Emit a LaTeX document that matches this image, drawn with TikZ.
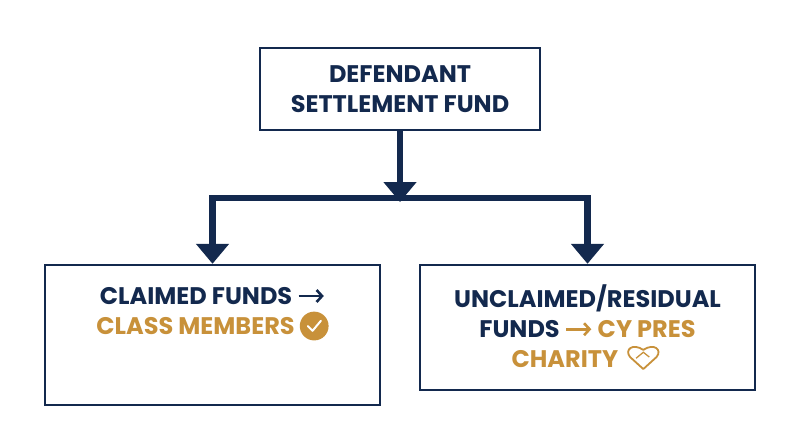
\documentclass[tikz,border=0pt]{standalone}
\usepackage{fontspec}
\setmainfont{Poppins}
\usetikzlibrary{arrows.meta}
\definecolor{navy}{HTML}{13294E}
\definecolor{gold}{HTML}{C8913A}
\newcommand{\rarr}{\tikz[baseline=0pt]{\draw[line width=2.6pt,-{Straight Barb[length=5.5pt,width=12pt,line width=2.6pt]}] (0,0.36em) -- (1.05em,0.36em);}}
\newcommand{\chk}{\tikz[baseline=0pt]{\fill[gold] (0,0.36em) circle (0.6em);\draw[white,line width=2pt,line cap=round,line join=round] (-0.27em,0.36em) -- (-0.07em,0.16em) -- (0.28em,0.58em);}}
\newcommand{\hrt}{\tikz[baseline=0pt]{\draw[gold,line width=1.8pt,line join=round] (0,-0.05em) -- (-0.55em,0.45em) .. controls (-0.8em,0.75em) and (-0.45em,1.05em) .. (0,0.75em) .. controls (0.45em,1.05em) and (0.8em,0.75em) .. (0.55em,0.45em) -- cycle; \draw[gold,line width=1.3pt] (-0.3em,0.4em) -- (0,0.65em) -- (0.25em,0.45em);}}
\begin{document}
\begin{tikzpicture}[x=1pt,y=-1pt,
  box/.style={draw=navy,line width=2.4pt,fill=white,inner sep=0pt},
  txt/.style={align=center,font=\fontsize{24}{30}\selectfont\bfseries,text=navy},
  conn/.style={navy,line width=6.5pt},
  arr/.style={conn,-{Triangle[length=20pt,width=32pt]}}]
\fill[white] (0,0) rectangle (800,447);
\useasboundingbox (0,0) rectangle (800,447);
\node[box,txt,minimum width=280pt,minimum height=82pt] (top) at (400,89) {DEFENDANT\\SETTLEMENT FUND};
\node[box,minimum width=335pt,minimum height=140pt] (left) at (212.5,335) {};
\node[txt] (lt) at (212.5,314) {CLAIMED FUNDS \rarr\\\textcolor{gold}{CLASS MEMBERS \chk}};
\node[box,txt,minimum width=335pt,minimum height=125pt] (right) at (587.5,327.5) {UNCLAIMED/RESIDUAL\\FUNDS \textcolor{gold}{\rarr{} CY PRES}\\\textcolor{gold}{CHARITY \hrt}};
\coordinate (j) at (400,198);
\coordinate (jl) at (212.5,198);
\coordinate (jr) at (587.5,198);
\draw[arr] (top.south) -- ([yshift=-4pt]j);
\draw[conn,line cap=rect] (jl) -- (jr);
\draw[arr] (jl) -- (left.north);
\draw[arr] (jr) -- (right.north);
\end{tikzpicture}
\end{document}
